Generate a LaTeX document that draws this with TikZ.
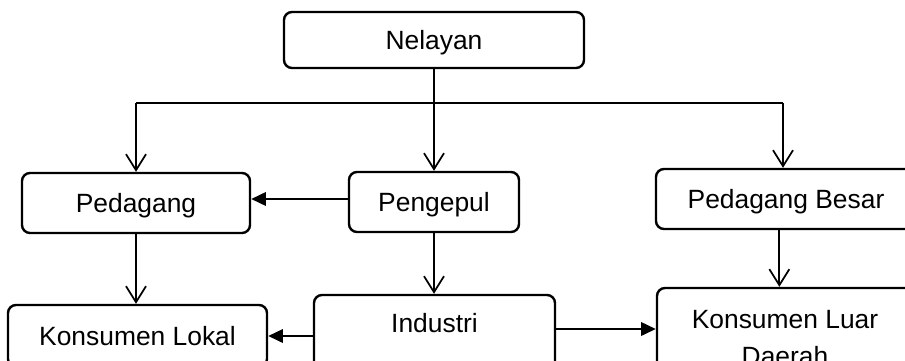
\documentclass[tikz,border=0pt]{standalone}
\usepackage{fontspec}
\setmainfont{Liberation Sans}
\usetikzlibrary{arrows.meta}
\begin{document}
\begin{tikzpicture}[x=0.75pt,y=-0.75pt,
  box/.style={draw, line width=1.8pt, rounded corners=6pt, inner sep=0pt,
    font=\fontsize{19.8}{27.75}\selectfont, align=center},
  onebox/.style={box, text height=14.2pt, text depth=0pt},
  bus/.style={line width=2pt},
  down/.style={line width=1.3pt, -{Straight Barb[length=12pt,width=15pt,line width=1.3pt]}},
  side/.style={line width=1.8pt, -{Triangle[length=11pt,width=10pt]}}]
\useasboundingbox (0,0) rectangle (905,360);
\clip (0,0) rectangle (905,360);
\node[onebox, minimum width=225pt, minimum height=42pt] (nel) at (434,40) {Nelayan};
\node[onebox, minimum width=171pt, minimum height=45pt] (ped) at (136,203) {Pedagang};
\node[onebox, minimum width=127.5pt, minimum height=45pt] (pen) at (434,202) {Pengepul};
\node[onebox, minimum width=195pt, minimum height=45pt] (pb) at (786,199) {Pedagang Besar};
\node[onebox, minimum width=194.25pt, minimum height=46.5pt] (kl) at (137.5,336) {Konsumen Lokal};
\node[box, minimum width=180.75pt, minimum height=73.5pt] (ind) at (434.5,344) {Industri\\\phantom{Pengolahan}};
\node[box, minimum width=192pt, minimum height=75pt] (kld) at (785,338) {Konsumen Luar\\Daerah};
\coordinate (busL) at (136,103);
\coordinate (busR) at (783,103);
\draw[bus] (busL) -- (busR);
\draw[line width=1.3pt] (nel.south) -- (nel.south |- busL);
\draw[down] (busL) -- (ped.north);
\draw[down] (nel.south |- busL) -- (pen.north);
\draw[down] (busR) -- (busR |- pb.north);
\draw[side] ([yshift=2.25pt]pen.west) -- ([yshift=2.25pt]pen.west -| ped.east);
\draw[down] (ped.south) -- (ped.south |- kl.north);
\draw[down] (pen.south) -- (pen.south |- ind.north);
\draw[down] ([xshift=-5pt]pb.south) -- ([xshift=-5pt]pb.south |- kld.north);
\draw[side] (kl.east -| ind.west) -- (kl.east);
\draw[side] ([yshift=11.25pt]ind.east) -- ([yshift=11.25pt]ind.east -| kld.west);
\end{tikzpicture}
\end{document}
